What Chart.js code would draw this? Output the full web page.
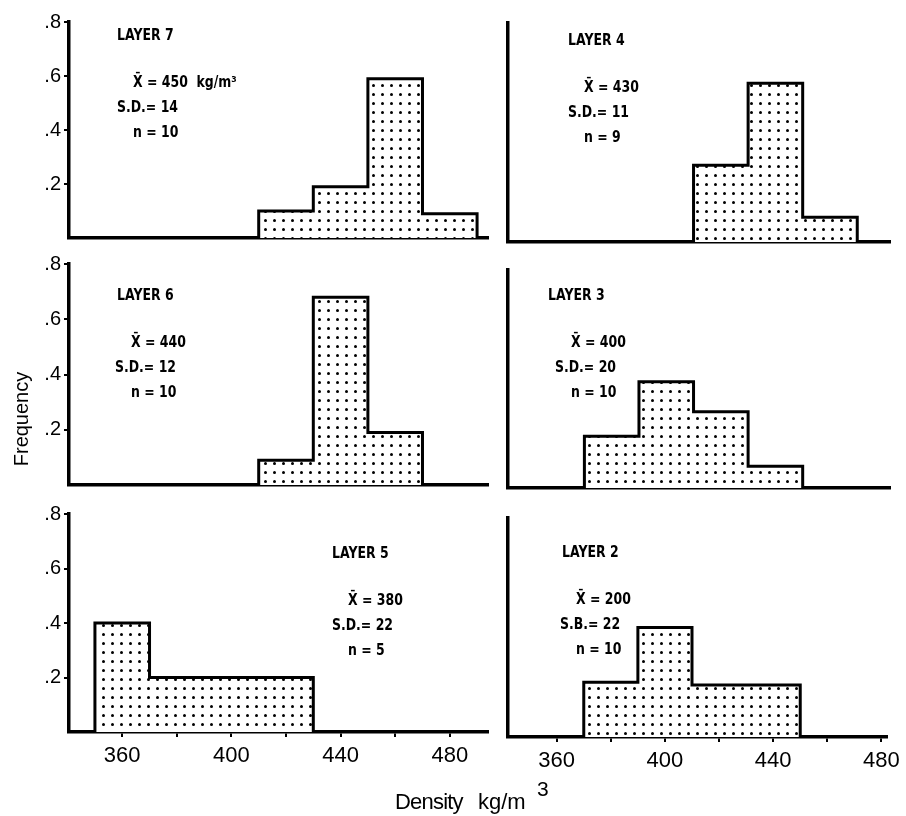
<!DOCTYPE html>
<html>
<head>
<meta charset="utf-8">
<title>Density histograms by layer</title>
<script src="https://cdn.jsdelivr.net/npm/chart.js"></script>
<style>
  body { margin: 0; background: #fff; }
  #wrap { position: relative; width: 906px; height: 816px; overflow: hidden; background: #fff; }
  #wrap canvas { position: absolute; left: 0; top: 0; }
  .lbl { position: absolute; font-family: "Liberation Sans", Arial, sans-serif; color: #000; white-space: nowrap; }
</style>
</head>
<body>
<div id="wrap">
  <canvas id="p7" width="906" height="816"></canvas>
  <canvas id="p4" width="906" height="816"></canvas>
  <canvas id="p6" width="906" height="816"></canvas>
  <canvas id="p3" width="906" height="816"></canvas>
  <canvas id="p5" width="906" height="816"></canvas>
  <canvas id="p2" width="906" height="816"></canvas>
  <div class="lbl" style="left:-79px; top:409px; width:200px; height:20px; line-height:20px; font-size:20px; text-align:center; transform:rotate(-90deg);">Frequency</div>
  <div class="lbl" style="left:395px; top:791px; font-size:22px; line-height:22px; letter-spacing:-0.8px;">Density</div>
  <div class="lbl" style="left:478px; top:791px; font-size:22px; line-height:22px;">kg/m</div>
  <div class="lbl" style="left:537px; top:778px; font-size:21px; line-height:21px;">3</div>
</div>
<script>
  // histogram bins (kg/m3), 20 wide
  const binEdges = [350, 370, 390, 410, 430, 450, 470, 490];

  // frequency per bin
  const layer7 = [0, 0, 0, 0.10, 0.19, 0.59, 0.09];
  const layer4 = [0, 0, 0, 0.28, 0.58, 0.09, 0];
  const layer6 = [0, 0, 0, 0.09, 0.68, 0.19, 0];
  const layer3 = [0, 0.19, 0.39, 0.28, 0.08, 0, 0];
  const layer5 = [0.40, 0.20, 0.20, 0.20, 0, 0, 0];
  const layer2 = [0, 0.20, 0.40, 0.19, 0.19, 0, 0];

  // panel statistics
  const layerNames = ['LAYER 7', 'LAYER 4', 'LAYER 6', 'LAYER 3', 'LAYER 5', 'LAYER 2'];
  const means = [450, 430, 440, 400, 380, 200];
  const meanUnits = ['kg/m\u00B3', '', '', '', '', ''];
  const sdLabels = ['S.D.', 'S.D.', 'S.D.', 'S.D.', 'S.D.', 'S.B.'];
  const sds = [14, 11, 12, 20, 22, 22];
  const ns = [10, 9, 10, 10, 5, 10];

  // axis ticks
  const xTicks = [360, 380, 400, 420, 440, 460, 480];
  const xTickLabels = ['360', '', '400', '', '440', '', '480'];
  const yTicks = [0.2, 0.4, 0.6, 0.8];
  const yTickLabels = ['.2', '.4', '.6', '.8'];

  // draws the LAYER / mean / S.D. / n block of a panel
  const panelText = {
    id: 'panelText',
    afterDraw(chart, args, opts) {
      const ctx = chart.ctx;
      ctx.save();
      ctx.fillStyle = '#000';
      ctx.font = 'bold 16px "DejaVu Sans", sans-serif';
      ctx.textBaseline = 'alphabetic';
      opts.lines.forEach(l => {
        ctx.save();
        ctx.translate(l.x, l.y);
        ctx.scale(0.78, 1);
        ctx.fillText(l.text, 0, 0);
        ctx.restore();
      });
      ctx.restore();
    }
  };

  function dotPattern(ctx) {
    const tile = document.createElement('canvas');
    tile.width = 9;
    tile.height = 9;
    const t = tile.getContext('2d');
    t.fillStyle = '#fff';
    t.fillRect(0, 0, 9, 9);
    t.fillStyle = '#000';
    t.beginPath();
    t.arc(4.5, 4.5, 1.5, 0, Math.PI * 2);
    t.fill();
    return ctx.createPattern(tile, 'repeat');
  }

  // step outline points: only the span of non-empty bins
  function stepPoints(values) {
    let first = values.findIndex(v => v > 0);
    let last = values.length - 1;
    while (last > first && values[last] === 0) last--;
    const pts = [{ x: binEdges[first], y: 0 }];
    for (let i = first; i <= last; i++) pts.push({ x: binEdges[i], y: values[i] });
    pts.push({ x: binEdges[last + 1], y: 0 });
    return pts;
  }

  function makePanel(id, values, k, box, xRange, showY, showX, txt) {
    const canvas = document.getElementById(id);
    const ctx = canvas.getContext('2d');
    const yW = showY ? box.l : 0;
    const xH = showX ? 40 : 0;
    const mean = 'X\u0304 = ' + means[k] + (meanUnits[k] ? '  ' + meanUnits[k] : '');

    new Chart(ctx, {
      type: 'line',
      data: {
        datasets: [{
          data: stepPoints(values),
          stepped: 'before',
          fill: 'origin',
          backgroundColor: dotPattern(ctx),
          borderColor: '#000',
          borderWidth: 3,
          borderJoinStyle: 'miter',
          pointRadius: 0,
          tension: 0
        }]
      },
      options: {
        responsive: false,
        animation: false,
        events: [],
        layout: {
          padding: {
            left: showY ? 0 : box.l,
            top: box.t,
            right: 906 - box.r,
            bottom: 816 - box.b - xH
          }
        },
        plugins: {
          legend: { display: false },
          tooltip: { enabled: false },
          panelText: {
            lines: [
              { text: layerNames[k], x: txt.lx, y: txt.ly },
              { text: mean, x: txt.sx + 16, y: txt.ly + 47 },
              { text: sdLabels[k] + '= ' + sds[k], x: txt.sx, y: txt.ly + 72 },
              { text: 'n = ' + ns[k], x: txt.sx + 16, y: txt.ly + 97 }
            ]
          }
        },
        scales: {
          x: {
            type: 'linear',
            min: xRange[0],
            max: xRange[1],
            afterBuildTicks: s => { s.ticks = xTicks.map(v => ({ value: v })); },
            afterFit: s => { s.height = xH; },
            border: { display: true, color: '#000', width: 3.5 },
            grid: { display: showX, drawOnChartArea: false, drawTicks: true, tickLength: 5, color: '#000', lineWidth: 2 },
            ticks: {
              display: showX,
              autoSkip: false,
              maxRotation: 0,
              padding: 6,
              color: '#000',
              font: { family: '"Liberation Sans", Arial, sans-serif', size: 22 },
              callback: (v, i) => xTickLabels[i]
            }
          },
          y: {
            min: 0,
            max: 0.8,
            afterBuildTicks: s => { s.ticks = yTicks.map(v => ({ value: v })); },
            afterFit: s => { s.width = yW; },
            border: { display: true, color: '#000', width: 3.5 },
            grid: { display: showY, drawOnChartArea: false, drawTicks: true, tickLength: 5, color: '#000', lineWidth: 2 },
            ticks: {
              display: showY,
              padding: 3,
              color: '#000',
              font: { family: '"Liberation Sans", Arial, sans-serif', size: 20 },
              callback: (v, i) => yTickLabels[i]
            }
          }
        }
      },
      plugins: [panelText]
    });
  }

  const leftX = [340.5, 494];
  const rightX = [342, 482];

  makePanel('p7', layer7, 0, { l: 69, r: 488, t: 22, b: 238 }, leftX, true, false, { lx: 117, ly: 40, sx: 117 });
  makePanel('p4', layer4, 1, { l: 508, r: 890, t: 23, b: 242 }, rightX, false, false, { lx: 568, ly: 45, sx: 568 });
  makePanel('p6', layer6, 2, { l: 69, r: 488, t: 264, b: 485 }, leftX, true, false, { lx: 117, ly: 300, sx: 115 });
  makePanel('p3', layer3, 3, { l: 508, r: 890, t: 270, b: 488 }, rightX, false, false, { lx: 548, ly: 300, sx: 555 });
  makePanel('p5', layer5, 4, { l: 69, r: 488, t: 514, b: 732 }, leftX, true, true, { lx: 332, ly: 558, sx: 332 });
  makePanel('p2', layer2, 5, { l: 508, r: 890, t: 518, b: 737 }, rightX, false, true, { lx: 562, ly: 557, sx: 560 });
</script>
</body>
</html>
